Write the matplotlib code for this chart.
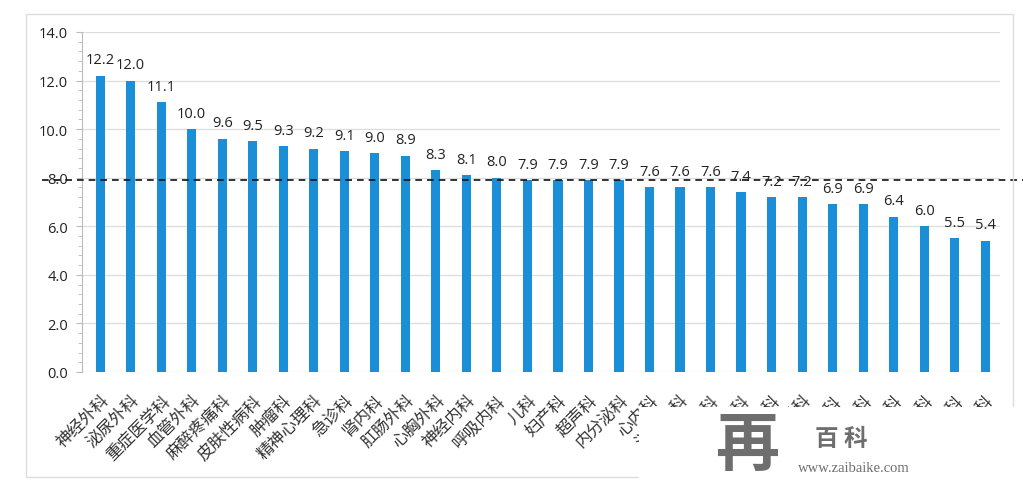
import matplotlib
matplotlib.use("Agg")
import matplotlib.pyplot as plt
from matplotlib.patches import Rectangle
from matplotlib.transforms import blended_transform_factory
from matplotlib.ticker import MultipleLocator

plt.rcParams['font.family'] = ['Noto Sans CJK SC', 'DejaVu Sans']

# departments (the last ones are hidden under the watermark in the source)
departments = ['神经外科', '泌尿外科', '重症医学科', '血管外科', '麻醉疼痛科', '皮肤性病科',
               '肿瘤科', '精神心理科', '急诊科', '肾内科', '肛肠外科', '心胸外科',
               '神经内科', '呼吸内科', '儿科', '妇产科', '超声科', '内分泌科', '心内科',
               '消化内科', '骨科', '眼科', '普外科', '耳鼻喉科', '口腔科', '康复科',
               '感染科', '血液科', '中医科', '放射科']
values = [12.2, 12.0, 11.1, 10.0, 9.6, 9.5, 9.3, 9.2, 9.1, 9.0, 8.9, 8.3, 8.1, 8.0,
          7.9, 7.9, 7.9, 7.9, 7.6, 7.6, 7.6, 7.4, 7.2, 7.2, 6.9, 6.9, 6.4, 6.0, 5.5, 5.4]
average = 7.9

fig = plt.figure(figsize=(10.23, 4.85), dpi=100)
ax = fig.add_axes([0.080, 0.231, 0.898, 0.701])

x = range(len(values))
ax.bar(x, values, width=0.3, color='#1a8fd8', zorder=3)
for i, v in zip(x, values):
    ax.annotate(f'{v:.1f}', (i, v), xytext=(0, 6), textcoords='offset points',
                ha='center', va='bottom', fontsize=10.5, color='#222222',
                family=['Open Sans', 'DejaVu Sans'], zorder=5)

ax.set_xlim(-0.6, len(values) - 0.5)
ax.set_ylim(0, 14)
ax.yaxis.set_major_locator(MultipleLocator(2))
ax.yaxis.set_minor_locator(MultipleLocator(0.4))
ax.set_yticklabels([f'{t:.1f}' for t in ax.get_yticks()],
                   family=['Open Sans', 'DejaVu Sans'], fontsize=10.5, color='#222222')
ax.grid(axis='y', color='#dddddd', linewidth=0.9, zorder=0)
ax.tick_params(axis='y', which='major', length=4, color='#bbbbbb', pad=6)
ax.tick_params(axis='y', which='minor', length=3, color='#bbbbbb')
ax.tick_params(axis='x', length=0, pad=14)
for s in ['top', 'right', 'bottom']:
    ax.spines[s].set_visible(False)
ax.spines['left'].set_color('#bbbbbb')

ax.set_xticks(list(x))
ax.set_xticklabels(departments, rotation=45, ha='right', rotation_mode='anchor',
                   fontsize=12, color='#333333')

# average line running across the whole frame
tr = blended_transform_factory(fig.transFigure, ax.transData)
ax.plot([0.041, 1.0], [average, average], transform=tr, color='#111111',
        linestyle=(0, (4, 3)), linewidth=1.2, clip_on=False, zorder=4)

# outer chart frame
fig.patches.append(Rectangle((0.025, 0.015), 0.965, 0.955, transform=fig.transFigure,
                             fill=False, edgecolor='#dddddd', linewidth=1.0))

# watermark overlay
fig.patches.append(Rectangle((0.625, 0.0), 0.375, 0.158, transform=fig.transFigure,
                             facecolor='white', edgecolor='none', zorder=10))
fig.text(0.73, 0.08, '再', fontsize=46, fontweight='bold', color='#6e6e6e',
         ha='center', va='center', zorder=11)
fig.text(0.822, 0.095, '百 科', fontsize=17, fontweight='bold', color='#6e6e6e',
         ha='center', va='center', zorder=11)
fig.text(0.835, 0.033, 'www.zaibaike.com', fontsize=10.5, color='#6e6e6e',
         family=['Liberation Serif', 'DejaVu Serif'], ha='center', va='center', zorder=11)

fig.savefig('out.png', dpi=100, facecolor='white')
